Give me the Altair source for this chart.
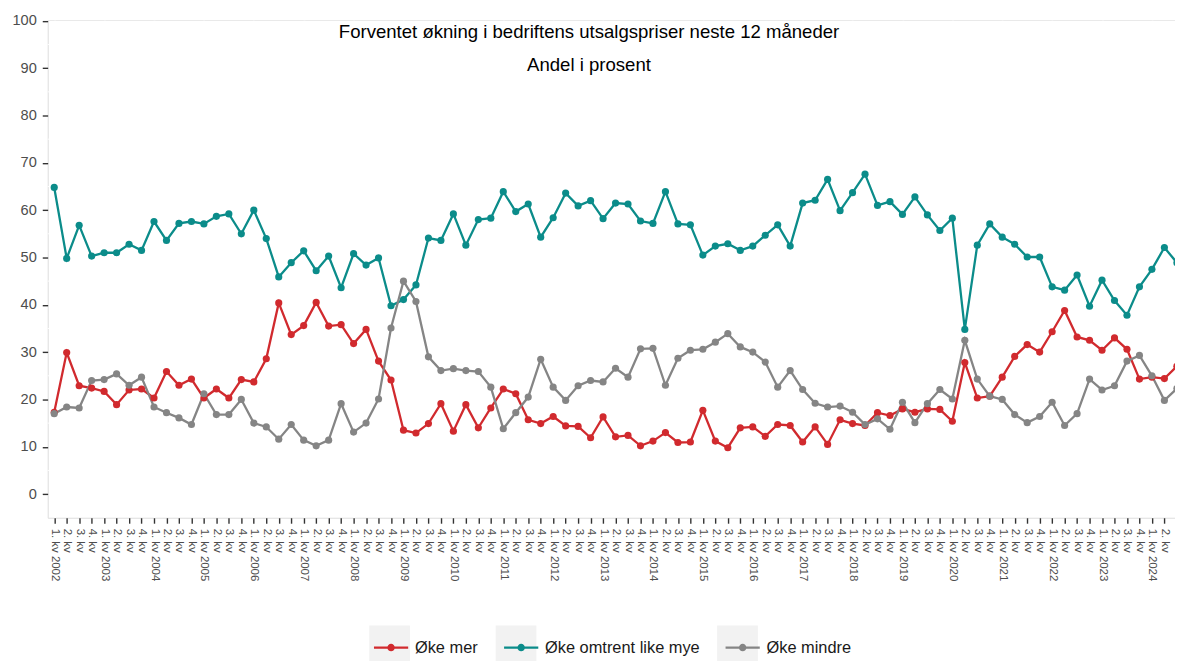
import json
import altair as alt
import pandas as pd

# ---------------- data ----------------
years = list(range(2002, 2025))
quarter_names = ["1. kv", "2. kv", "3. kv", "4. kv"]
tick_labels = []
for yr in years:
    for qi, qn in enumerate(quarter_names):
        tick_labels.append(f"{qn} {yr}" if qi == 0 else qn)

series_names = ["Øke mer", "Øke omtrent like mye", "Øke mindre"]
series_colors = ["#D12A2E", "#0B8C8A", "#858585"]
box_keys_fill = ["a", "a", "c"]

oke_mer = [17.3, 29.9, 22.9, 22.4, 21.7, 18.9, 22.0, 22.2, 20.3, 25.9,
           23.0, 24.3, 20.3, 22.2, 20.3, 24.2, 23.7, 28.6, 40.4, 33.7,
           35.6, 40.5, 35.5, 35.8, 31.8, 34.8, 28.1, 24.1, 13.5, 12.9,
           14.9, 19.1, 13.3, 18.9, 14.0, 18.2, 22.2, 21.2, 15.7, 14.9,
           16.4, 14.4, 14.3, 11.9, 16.3, 12.1, 12.4, 10.2, 11.2, 13.0,
           10.9, 11.0, 17.7, 11.2, 9.8, 14.0, 14.2, 12.2, 14.7, 14.5,
           11.0, 14.2, 10.5, 15.7, 14.9, 14.5, 17.2, 16.6, 18.0, 17.3,
           18.0, 17.9, 15.4, 27.8, 20.3, 20.7, 24.7, 29.1, 31.6, 30.0,
           34.3, 38.8, 33.2, 32.5, 30.4, 33.0, 30.6, 24.3, 24.7, 24.4,
           27.0]

oke_like = [64.8, 49.8, 56.8, 50.3, 51.0, 51.0, 52.8, 51.5, 57.6, 53.6,
            57.2, 57.6, 57.1, 58.7, 59.2, 55.0, 60.0, 54.0, 45.9, 48.9,
            51.4, 47.2, 50.3, 43.6, 50.8, 48.4, 49.9, 39.8, 41.1, 44.2,
            54.1, 53.6, 59.2, 52.6, 58.0, 58.3, 63.9, 59.7, 61.3, 54.3,
            58.4, 63.6, 60.9, 62.0, 58.2, 61.5, 61.3, 57.7, 57.2, 63.9,
            57.1, 56.9, 50.5, 52.4, 52.9, 51.5, 52.4, 54.7, 56.9, 52.4,
            61.5, 62.1, 66.5, 59.9, 63.7, 67.6, 61.0, 61.8, 59.1, 62.8,
            59.0, 55.7, 58.3, 34.8, 52.6, 57.1, 54.3, 52.8, 50.1, 50.1,
            43.8, 43.1, 46.3, 39.7, 45.2, 40.9, 37.8, 43.8, 47.5, 52.1,
            48.9]

oke_mindre = [17.0, 18.4, 18.2, 24.0, 24.2, 25.4, 23.0, 24.7, 18.4, 17.2,
              16.1, 14.7, 21.2, 16.8, 16.8, 20.0, 15.0, 14.2, 11.6, 14.7,
              11.4, 10.2, 11.4, 19.1, 13.1, 15.0, 20.1, 35.1, 45.0, 40.7,
              29.0, 26.1, 26.5, 26.1, 25.9, 22.6, 13.8, 17.2, 20.5, 28.5,
              22.6, 19.8, 22.9, 24.0, 23.7, 26.6, 24.7, 30.7, 30.8, 23.0,
              28.7, 30.4, 30.6, 32.1, 33.9, 31.1, 30.0, 27.9, 22.6, 26.1,
              22.1, 19.2, 18.4, 18.6, 17.3, 14.7, 15.9, 13.7, 19.4, 15.1,
              19.1, 22.1, 20.1, 32.5, 24.3, 20.7, 20.0, 16.8, 15.1, 16.4,
              19.4, 14.5, 17.0, 24.3, 22.0, 22.9, 28.1, 29.3, 25.0, 19.8,
              22.3]

y_major = list(range(0, 101, 10))
y_minor = list(range(5, 100, 10))
title_line1 = "Forventet økning i bedriftens utsalgspriser neste 12 måneder"
title_line2 = "Andel i prosent"

rows = []
for name, fk, vals in zip(series_names, box_keys_fill, [oke_mer, oke_like, oke_mindre]):
    for i, v in enumerate(vals):
        rows.append({"idx": i, "series": name, "value": v, "k1": fk, "k2": "b"})
df = pd.DataFrame(rows)

FONT = "Liberation Sans"
x_scale = alt.Scale(domain=[-0.52, 89.85], nice=False, zero=False)
y_scale = alt.Scale(domain=[-5, 100.15], nice=False, zero=False)

x_axis = alt.Axis(
    values=list(range(0, 90)),
    labelExpr=f"{json.dumps(tick_labels)}[datum.value]",
    labelAngle=90, labelAlign="left", labelBaseline="middle",
    labelFontSize=11.5, labelColor="#4D4D4D", labelPadding=5, labelFont=FONT,
    labelOverlap=False, labelFlush=False, labelSeparation=0, labelBound=False,
    tickSize=5.5, tickColor="#333333", tickWidth=1.4,
    domain=False, title=None, grid=True, gridWidth=1.7,
    gridColor={"condition": {"test": "datum.value % 4 === 0", "value": "#FFFFFF"},
               "value": "rgba(0,0,0,0)"},
)
y_axis = alt.Axis(
    values=y_major, labelFontSize=14.7, labelColor="#4D4D4D", labelPadding=6,
    labelFont=FONT, tickSize=5.5, tickColor="#333333", tickWidth=1.4,
    domain=False, title=None, grid=True, gridColor="#FFFFFF", gridWidth=1.7,
)

legend_x = 323.7
legend_y = 609.5
line_dot_path = "M-0.84,0L0.84,0M-0.13,0A0.13,0.13,0,1,1,0.13,0A0.13,0.13,0,1,1,-0.13,0Z"

color_enc = alt.Color(
    "series:N",
    scale=alt.Scale(domain=series_names, range=series_colors),
    legend=alt.Legend(
        orient="none", legendX=legend_x, legendY=legend_y, direction="horizontal",
        title=None, padding=0, symbolType=line_dot_path, symbolSize=1681,
        symbolStrokeWidth=2.2, symbolOpacity=1, labelFontSize=16.5, labelFont=FONT,
        labelColor="#1A1A1A", labelOffset=2, columnPadding=21, zindex=2,
    ),
)

x_enc = alt.X("idx:Q", scale=x_scale, axis=x_axis)
y_enc = alt.Y("value:Q", scale=y_scale, axis=y_axis)

base = alt.Chart(df).encode(x=x_enc, y=y_enc, color=color_enc)

minor = alt.Chart(pd.DataFrame({"value": y_minor})).mark_rule(
    color="#FFFFFF", strokeWidth=0.9
).encode(y=y_enc)


def key_box(lx, col_pad=0):
    # grey key background squares, drawn as label-less legend entries
    return alt.Legend(
        orient="none", legendX=lx, legendY=legend_y, direction="horizontal",
        title=None, padding=0, symbolType="square", symbolSize=1681,
        symbolStrokeWidth=0, symbolOpacity=1, symbolFillColor="#F2F2F2",
        symbolStrokeColor="#F2F2F2", labelExpr="''", labelFontSize=16.5,
        labelOffset=0, columnPadding=col_pad, zindex=1,
    )


bg_keys = alt.Chart(df).mark_point(filled=True, opacity=0, clip=True).encode(
    x=x_enc,
    y=y_enc,
    fill=alt.Fill("k1:N", scale=alt.Scale(domain=["a", "c"], range=["#F2F2F2", "#F2F2F2"]),
                  legend=key_box(legend_x, 309.3)),
    shape=alt.Shape("k2:N", scale=alt.Scale(domain=["b"], range=["square"]),
                    legend=key_box(451.0)),
)

lines = base.mark_line(strokeWidth=2.3, clip=True)
points = base.mark_circle(size=52, opacity=1, clip=True)

t1 = alt.Chart(pd.DataFrame({"t": [title_line1]})).mark_text(
    font=FONT, fontSize=18.7, color="#000000", align="center", baseline="alphabetic"
).encode(text="t:N", x=alt.value(545), y=alt.value(17.7))
t2 = alt.Chart(pd.DataFrame({"t": [title_line2]})).mark_text(
    font=FONT, fontSize=18.7, color="#000000", align="center", baseline="alphabetic"
).encode(text="t:N", x=alt.value(545), y=alt.value(51.0))

chart = alt.layer(minor, bg_keys, lines, points, t1, t2).properties(
    width=1135, height=501,
    padding={"left": 40, "top": 10, "right": 0, "bottom": 143},
    autosize=alt.AutoSizeParams(type="none"),
    background="#FFFFFF",
).configure_view(fill="#EBEBEB", strokeWidth=0).configure(font=FONT).configure_axis(
    labelOverlap=False
)

chart.save("out.html", embed_options={"renderer": "svg", "actions": False})
